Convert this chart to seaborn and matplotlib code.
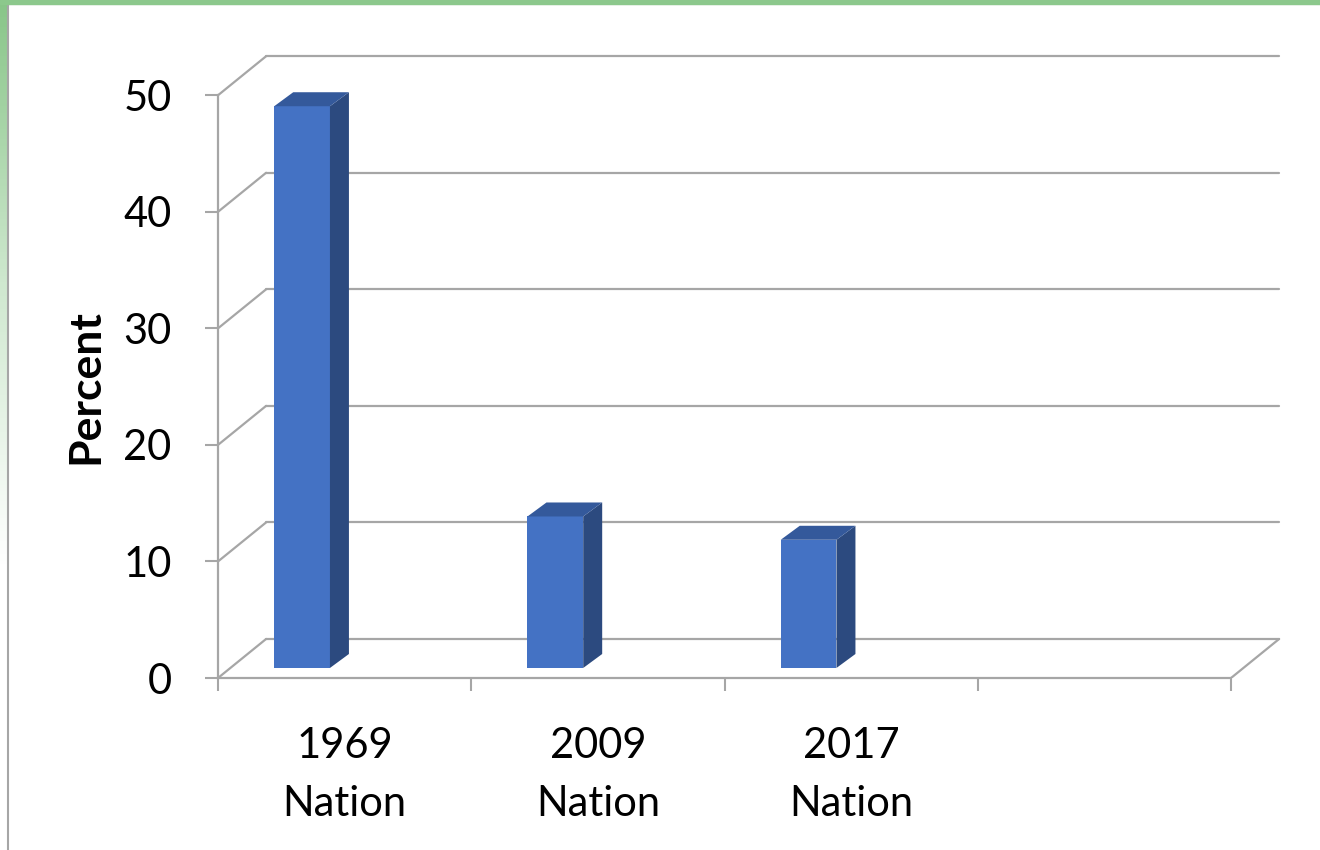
import numpy as np
import pandas as pd
import matplotlib
matplotlib.use("Agg")
import matplotlib.pyplot as plt
import seaborn as sns
from matplotlib.patches import Polygon, Rectangle
from matplotlib.colors import LinearSegmentedColormap
from matplotlib.lines import Line2D

# Data
years = ["1969\nNation", "2009\nNation", "2017\nNation"]
percent = [48.2, 13, 11]
slot_labels = ["1969\nNation", "2009\nNation", "2017\nNation", ""]
y_ticks = [0, 10, 20, 30, 40, 50]

df = pd.DataFrame({"Year": years, "Percent": percent})

sns.set_style("white")
plt.rcParams["font.family"] = ["Lato", "DejaVu Sans"]

GRID = "#a6a6a6"
FRONT = "#4472c4"
SIDE = "#2c4a7f"
TOP = "#34599b"

# fake 3d settings (data units)
DX, DY = 0.19, 3.35         # depth of the back wall
BX, BY = 0.075, 1.2         # depth of a bar
SHIFT_X, SHIFT_Y = -0.168, 0.86

fig = plt.figure(figsize=(13.2, 8.5), dpi=100)

# slide background bits: green strips and chart border
bg = fig.add_axes([0, 0, 8 / 1320, 1])
grad = np.linspace(0, 1, 256).reshape(-1, 1)
cmap = LinearSegmentedColormap.from_list("g", ["#88c588", "#cfe8cf", "#ffffff", "#ffffff"])
bg.imshow(grad, aspect="auto", cmap=cmap, extent=[0, 1, 0, 1], origin="upper")
bg.axis("off")
fig.patches.append(Rectangle((0, 1 - 4 / 850), 1, 4 / 850, transform=fig.transFigure,
                             color="#8cc88c", zorder=5))
fig.lines.append(Line2D([8 / 1320, 8 / 1320], [0, 1 - 4 / 850], transform=fig.transFigure,
                        color=GRID, lw=1.5))
fig.lines.append(Line2D([8 / 1320, 1], [1 - 4 / 850, 1 - 4 / 850], transform=fig.transFigure,
                        color=GRID, lw=1.5))

ax = fig.add_axes([218 / 1320, 172 / 850, 1089 / 1320, 648 / 850])
sns.barplot(data=df, x="Year", y="Percent", color=FRONT, saturation=1,
            width=0.22, errorbar=None, ax=ax, zorder=3)

# back wall gridlines, floor and left diagonals
for v in y_ticks:
    ax.plot([-0.5 + DX, 3.5 + DX], [v + DY, v + DY], color=GRID, lw=1.6, zorder=1)
    ax.plot([-0.5, -0.5 + DX], [v, v + DY], color=GRID, lw=1.6, zorder=1)
ax.plot([3.5, 3.5 + DX], [0, DY], color=GRID, lw=1.6, zorder=1)

# give the bars depth
for p in ax.patches[:len(percent)]:
    p.set_x(p.get_x() + SHIFT_X)
    p.set_y(SHIFT_Y)
    p.set_edgecolor("none")
    x0, x1 = p.get_x(), p.get_x() + p.get_width()
    y0, y1 = p.get_y(), p.get_y() + p.get_height()
    side = Polygon([(x1, y0), (x1 + BX, y0 + BY), (x1 + BX, y1 + BY), (x1, y1)],
                   closed=True, facecolor=SIDE, edgecolor="none", zorder=3)
    top = Polygon([(x0, y1), (x1, y1), (x1 + BX, y1 + BY), (x0 + BX, y1 + BY)],
                  closed=True, facecolor=TOP, edgecolor="none", zorder=3)
    ax.add_patch(side)
    ax.add_patch(top)

ax.set_xlim(-0.5, 3.8)
ax.set_ylim(0, 55.6)

for s in ["top", "right"]:
    ax.spines[s].set_visible(False)
ax.spines["left"].set_bounds(0, 50)
ax.spines["bottom"].set_bounds(-0.5, 3.5)
for s in ["left", "bottom"]:
    ax.spines[s].set_color(GRID)
    ax.spines[s].set_linewidth(1.6)

ax.set_yticks(y_ticks)
ax.tick_params(axis="y", length=9.5, width=1.5, color=GRID, pad=24,
               labelsize=30, labelcolor="black", left=True)
ax.set_xticks(range(len(slot_labels)))
ax.set_xticklabels(slot_labels, linespacing=1.65)
ax.set_xticks(np.arange(-0.5, 4, 1), minor=True)
ax.tick_params(axis="x", which="major", length=0, pad=35, labelsize=30, labelcolor="black")
ax.tick_params(axis="x", which="minor", length=9, width=1.5, color=GRID, bottom=True)

ax.set_xlabel("")
ax.set_ylabel("Percent", fontsize=32, fontweight="bold", color="black")
ax.yaxis.set_label_coords(-0.103, 25 / 55.6)

fig.savefig("out.png", dpi=100)
